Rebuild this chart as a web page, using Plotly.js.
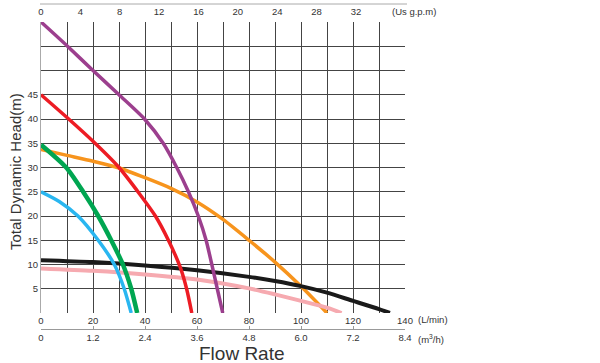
<!DOCTYPE html>
<html><head><meta charset="utf-8">
<script src="https://cdn.plot.ly/plotly-3.0.1.min.js"></script>
<style>html,body{margin:0;padding:0;background:#fff}#chart{width:600px;height:363px}</style>
</head><body><div id="chart"></div>
<script>
// ---- data (flow in L/min, head in m) ----
const purpleFlow = [0, 10.2, 20, 30, 39.8, 47, 52.2, 56.7, 60.5, 63.5, 65.7, 67.8, 69.9];
const purpleHead = [60, 55, 50, 45, 40, 35, 30, 25, 20, 15, 10, 5, 0];
const redFlow = [0, 10, 20, 30, 38, 44, 49, 53.5, 56, 58];
const redHead = [45, 40.3, 35.4, 30, 24.5, 20, 15, 9.5, 5, 0];
const orangeFlow = [0, 10, 20, 30, 40, 50, 60, 70, 80, 90, 100, 110];
const orangeHead = [33.7, 32.5, 31.3, 29.9, 27.9, 25.7, 22.9, 19.3, 15, 10.5, 5.5, 0];
const greenFlow = [0, 9.7, 16.2, 22, 27, 31.5, 34.7, 37];
const greenHead = [34.7, 30, 25, 20, 15, 10, 5, 0];
const blueFlow = [0, 7, 14.2, 22, 28.2, 32, 34.7];
const blueHead = [25, 23, 20, 15, 10, 5, 0];
const blackFlow = [0, 20, 40, 60, 80, 90, 100, 110, 120, 130, 134.2];
const blackHead = [10.9, 10.5, 9.8, 8.8, 7.45, 6.6, 5.55, 4.2, 2.5, 0.8, 0];
const pinkFlow = [0, 20, 40, 60, 80, 90, 100, 110, 115.6];
const pinkHead = [9.2, 8.7, 7.95, 6.9, 5.07, 3.84, 2.5, 1.1, 0];

// ---- axis ticks ----
const lminTicks = [0, 10, 20, 30, 40, 50, 60, 70, 80, 90, 100, 110, 120, 130, 140];
const lminText  = ['0', '', '20', '', '40', '', '60', '', '80', '', '100', '', '120', '', '140'];
const headTicks = [0, 5, 10, 15, 20, 25, 30, 35, 40, 45, 50, 55, 60];
const headText  = ['', '5', '10', '15', '20', '25', '30', '35', '40', '45', '', '', ''];
const m3hTicks = [0, 1.2, 2.4, 3.6, 4.8, 6.0, 7.2, 8.4];
const m3hText  = ['0', '1.2', '2.4', '3.6', '4.8', '6.0', '7.2', '8.4'];
const gpmTicks = [0, 4, 8, 12, 16, 20, 24, 28, 32];
const LPM_PER_GPM = 3.785;

// ---- geometry helpers (pixel -> paper) ----
const L = 41, R = 195, T = 4, B = 34, W = 600, H = 363;
const PW = W - L - R, PH = H - T - B;
const px = v => (v - L) / PW;
const py = v => (H - B - v) / PH;

const FONT = 'Liberation Sans, Arial, sans-serif';
const tickFont = {family: FONT, size: 9.5, color: '#333'};

function line(x, y, color, width) {
  return {x: x, y: y, type: 'scatter', mode: 'lines',
          line: {color: color, width: width, shape: 'spline', smoothing: 0.7},
          hoverinfo: 'skip', xaxis: 'x', yaxis: 'y'};
}
// invisible helper traces so the secondary flow-unit axes get drawn
function axisHolder(ticks, xa) {
  return {x: ticks, y: ticks.map(() => 0), type: 'scatter', mode: 'markers',
          marker: {opacity: 0, size: 1}, hoverinfo: 'skip', xaxis: xa, yaxis: 'y'};
}

const data = [
  axisHolder(m3hTicks, 'x2'),
  axisHolder(gpmTicks, 'x3'),
  line(orangeFlow, orangeHead, '#f7941d', 3.5),
  line(pinkFlow, pinkHead, '#f6aab0', 4),
  line(blackFlow, blackHead, '#1a1a1a', 4),
  line(purpleFlow, purpleHead, '#9c3f8e', 3.5),
  line(blueFlow, blueHead, '#29b6f0', 3.5),
  line(greenFlow, greenHead, '#00a651', 4.5),
  line(redFlow, redHead, '#ed1c24', 3.5)
];

const layout = {
  width: W, height: H,
  margin: {l: L, r: R, t: T, b: B, pad: 0},
  showlegend: false,
  paper_bgcolor: '#fff', plot_bgcolor: '#fff',
  font: {family: FONT, color: '#333'},
  xaxis: {
    range: [0, 140], anchor: 'y',
    tickvals: lminTicks, ticktext: lminText, ticks: '',
    showgrid: true, gridcolor: '#444', gridwidth: 1,
    zeroline: false, showline: false, tickfont: tickFont
  },
  yaxis: {
    range: [0, 60], domain: [py(313), py(22)],
    tickvals: headTicks, ticktext: headText, ticks: '',
    showgrid: true, gridcolor: '#444', gridwidth: 1,
    zeroline: false, showline: true, linecolor: '#aaa', linewidth: 1,
    tickfont: tickFont
  },
  xaxis2: {
    overlaying: 'x', anchor: 'free', position: 0, side: 'bottom',
    range: [0, 8.4], tickvals: m3hTicks, ticktext: m3hText,
    showline: true, linecolor: '#999', linewidth: 1,
    ticks: 'inside', ticklen: 3, tickcolor: '#999',
    showgrid: false, zeroline: false, tickfont: tickFont
  },
  xaxis3: {
    overlaying: 'x', anchor: 'y', side: 'top',
    range: [0, 140 / LPM_PER_GPM], tickvals: gpmTicks,
    showline: false, ticks: '', ticklabelstandoff: 4,
    showgrid: false, zeroline: false, tickfont: tickFont
  },
  shapes: [
    {type: 'line', xref: 'paper', yref: 'paper', x0: px(40), x1: px(407),
     y0: py(4), y1: py(4), line: {color: '#aaa', width: 1}}
  ],
  annotations: [
    {text: '(L/min)', xref: 'paper', yref: 'paper', x: px(416), y: py(319),
     xanchor: 'left', yanchor: 'middle', showarrow: false, font: tickFont},
    {text: '(m<sup>3</sup>/h)', xref: 'paper', yref: 'paper', x: px(416), y: py(339),
     xanchor: 'left', yanchor: 'middle', showarrow: false, font: tickFont},
    {text: '(Us g.p.m)', xref: 'paper', yref: 'paper', x: px(390), y: py(12),
     xanchor: 'left', yanchor: 'middle', showarrow: false, font: tickFont},
    {text: 'Flow Rate', xref: 'paper', yref: 'paper', x: px(242), y: py(353),
     xanchor: 'center', yanchor: 'middle', showarrow: false,
     font: {family: FONT, size: 19, color: '#333'}},
    {text: 'Total Dynamic Head(m)', xref: 'paper', yref: 'paper', x: px(15), y: py(172),
     xanchor: 'center', yanchor: 'middle', textangle: -90, showarrow: false,
     font: {family: FONT, size: 15, color: '#333'}}
  ]
};

Plotly.newPlot('chart', data, layout, {staticPlot: true, displayModeBar: false});
</script></body></html>
